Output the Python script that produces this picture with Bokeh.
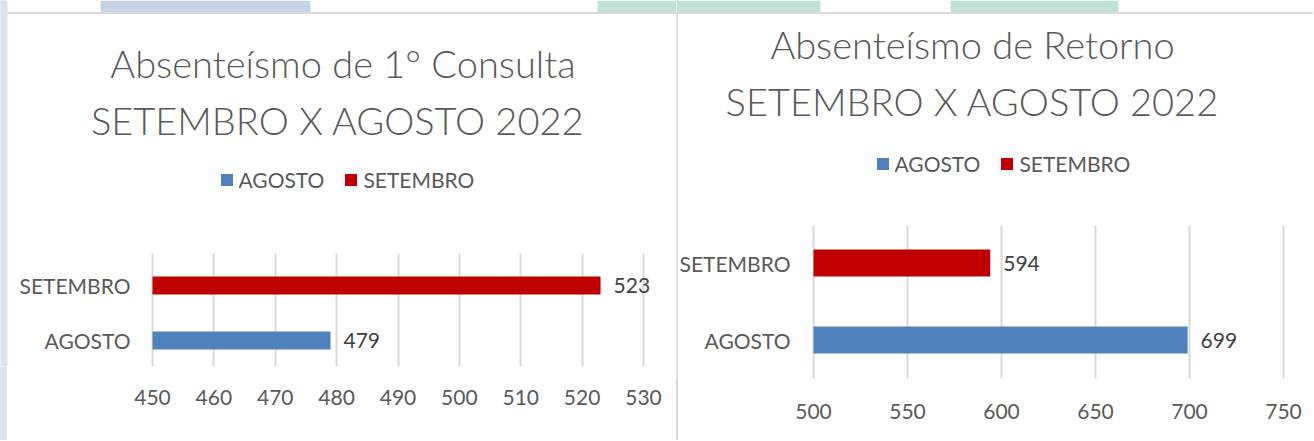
from bokeh.plotting import figure
from bokeh.models import (Range1d, FixedTicker, Label, Legend, LegendItem,
                          ColumnDataSource, LabelSet, BoxAnnotation)
from bokeh.layouts import row
from bokeh.embed import file_html
from bokeh.resources import INLINE
from bokeh.core.properties import value

# ---------------- data ----------------
categories = ["AGOSTO", "SETEMBRO"]
series_colors = ["#4f81bd", "#c00000"]

consulta_values = [479, 523]
retorno_values = [699, 594]

consulta_ticks = [450, 460, 470, 480, 490, 500, 510, 520, 530]
retorno_ticks = [500, 550, 600, 650, 700, 750]

consulta_title = ["Absenteísmo de 1° Consulta", "SETEMBRO  X AGOSTO 2022"]
retorno_title = ["Absenteísmo de Retorno", "SETEMBRO X AGOSTO 2022"]

FONT = "Lato"
TITLE_FONT = "Lato Light"
GREY = "#595959"
HEIGHT = 440


def deco(p, frame_h, left, right, top, bottom, color):
    """Screen-space decorative box (page background / panel borders)."""
    p.add_layout(BoxAnnotation(left=left, right=right,
                               top=frame_h - top, bottom=frame_h - bottom,
                               left_units="screen", right_units="screen",
                               top_units="screen", bottom_units="screen",
                               fill_color=color, fill_alpha=1,
                               line_color=None, level="underlay"))


def make_chart(width, axis_left_px, axis_right_px, frame_h, cat_px,
               ticks, vals, titles, title_cx, title_mid, legend_x,
               legend_mid, bar_px, grid_top, tick_standoff, cat_gap,
               page_bg):
    ppu = (axis_right_px - axis_left_px) / (ticks[-1] - ticks[0])
    x0 = ticks[0] - axis_left_px / ppu
    x1 = ticks[0] + (width - axis_left_px) / ppu
    ypu = cat_px[0] - cat_px[1]
    y0 = -(frame_h - cat_px[0]) / ypu
    y1 = y0 + frame_h / ypu

    p = figure(width=width, height=HEIGHT,
               x_range=Range1d(x0, x1), y_range=Range1d(y0, y1),
               output_backend="svg", toolbar_location=None,
               y_axis_location=None,
               min_border_left=0, min_border_right=0, min_border_top=0,
               min_border_bottom=HEIGHT - frame_h)
    p.frame_align = False
    p.outline_line_color = None
    p.background_fill_color = "white"
    p.border_fill_color = None
    p.styles = {"background": page_bg}
    p.xgrid.visible = False
    p.ygrid.visible = False

    # x axis: its ticks double as the vertical grid lines
    ax = p.xaxis[0]
    ax.ticker = FixedTicker(ticks=ticks)
    ax.axis_line_color = None
    ax.minor_tick_line_color = None
    ax.major_tick_out = 0
    ax.major_tick_in = frame_h - grid_top
    ax.major_tick_line_color = "#d9d9d9"
    ax.major_tick_line_width = 2
    ax.major_label_standoff = tick_standoff
    ax.major_label_text_font = FONT
    ax.major_label_text_font_size = "21px"
    ax.major_label_text_color = GREY

    idx = list(range(len(categories)))
    cat_src = ColumnDataSource(dict(y=idx, x=[ticks[0]] * len(idx),
                                    lab=categories))
    p.add_layout(LabelSet(x="x", y="y", text="lab", source=cat_src,
                          x_offset=-cat_gap, text_align="right",
                          text_baseline="middle", text_font=value(FONT),
                          text_font_size="21px", text_color=GREY))

    items = []
    for i, (cat, v, c) in enumerate(zip(categories, vals, series_colors)):
        src = ColumnDataSource(dict(y=[i], right=[v], lab=[str(v)]))
        r = p.hbar(y="y", right="right", left=ticks[0], height=bar_px / ypu,
                   fill_color=c, line_color=None, source=src,
                   level="annotation")
        items.append(LegendItem(label=cat, renderers=[r]))
        p.add_layout(LabelSet(x="right", y="y", text="lab", source=src,
                              x_offset=13, text_baseline="middle",
                              text_font=value(FONT), text_font_size="21px",
                              text_color="#404040"))

    legend = Legend(items=items, orientation="horizontal",
                    location=(legend_x, frame_h - legend_mid - 12.5),
                    border_line_color=None,
                    background_fill_alpha=0, label_text_font=FONT,
                    label_text_font_size="21px", label_text_color=GREY,
                    glyph_width=15, glyph_height=15, label_standoff=5,
                    spacing=19, padding=0, margin=0)
    p.add_layout(legend)

    for txt, mid in zip(titles, title_mid):
        p.add_layout(Label(x=title_cx, y=frame_h - mid,
                           x_units="screen", y_units="screen",
                           text=txt, text_align="center",
                           text_baseline="middle", text_font=TITLE_FONT,
                           text_font_size="38px", text_color=GREY))
    return p


p1 = make_chart(width=676, axis_left_px=152, axis_right_px=643, frame_h=366,
                cat_px=(340, 285), ticks=consulta_ticks, vals=consulta_values,
                titles=consulta_title, title_cx=342.5, title_mid=(62, 119.5),
                legend_x=218.5, legend_mid=179, bar_px=18, grid_top=253,
                tick_standoff=23, cat_gap=22,
                page_bg="linear-gradient(to right, #dce4ee 7px, #ffffff 7px)")

p2 = make_chart(width=637, axis_left_px=137, axis_right_px=607, frame_h=378,
                cat_px=(339.5, 262.5), ticks=retorno_ticks, vals=retorno_values,
                titles=retorno_title, title_cx=296, title_mid=(43, 100.5),
                legend_x=198.5, legend_mid=163, bar_px=27, grid_top=225,
                tick_standoff=25, cat_gap=23,
                page_bg="linear-gradient(to right, #d9d9d9 1.5px, #ffffff 1.5px)")

# page background pieces and panel borders (decoration only)
deco(p1, 366, 0, 7, 0, 366, "#dce4ee")
deco(p1, 366, 100, 310, 0, 12, "#c5d3e5")
deco(p1, 366, 597, 676, 0, 12, "#c0e1da")
deco(p1, 366, 7, 676, 11.5, 13.5, "#d9d9d9")
deco(p2, 378, 0, 144, 0, 12, "#c0e1da")
deco(p2, 378, 274, 442, 0, 12, "#c0e1da")
deco(p2, 378, 0, 637, 11.5, 13.5, "#d9d9d9")
deco(p2, 378, 0, 1.5, 12, 378, "#d9d9d9")

layout = row(p1, p2)
open("out.html", "w").write(file_html(layout, INLINE))
